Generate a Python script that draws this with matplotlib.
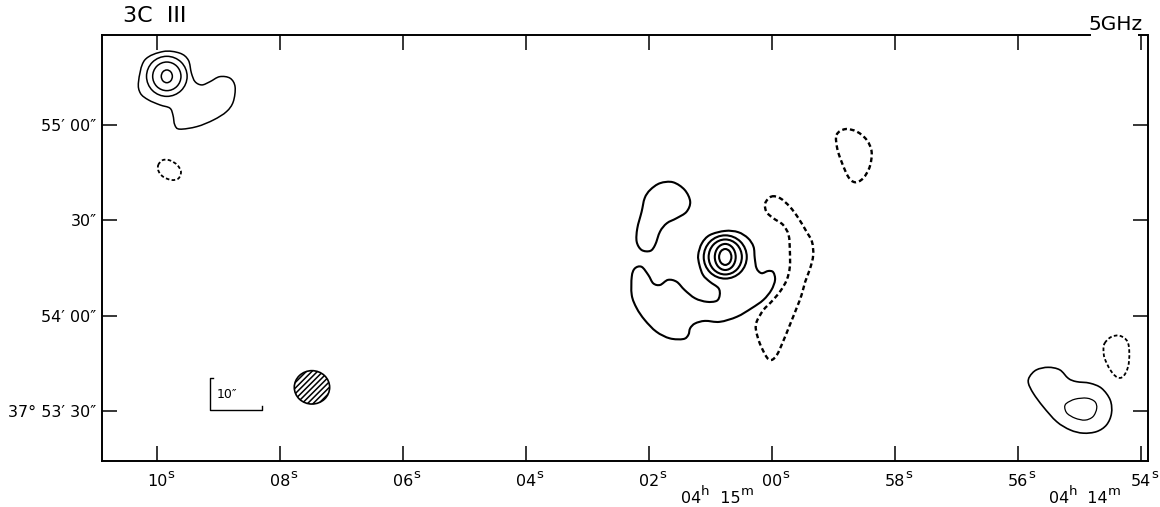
import numpy as np
import matplotlib
matplotlib.use('Agg')
import matplotlib.pyplot as plt
from matplotlib.path import Path
from matplotlib.patches import PathPatch, Ellipse

# RA in seconds after 04h 14m 00s, Dec in arcsec after +37d 53' 00"
ra_ticks = [70, 68, 66, 64, 62, 60, 58, 56, 54]
ra_labels = ['10', '08', '06', '04', '02', '00', '58', '56', '54']
dec_ticks = [30, 60, 90, 120]
dec_labels = ['37° 53′ 30″', '54′ 00″', '30″', '55′ 00″']
minute_labels = [['04', 'h', '  15', 'm'], ['04', 'h', '  14', 'm']]
minute_ra = [61.48, 55.50]

# eastern lobe
east_core = (69.84, 135.3)
east_ring_ra = [0.09, 0.23, 0.33]
east_ring_dec = [2.0, 4.5, 6.3]
east_outer_ra = [70.30, 70.20, 69.90, 69.63, 69.49, 69.44, 69.38, 69.27, 69.14, 68.98, 68.81, 68.73,
                 68.76, 68.87, 69.08, 69.35, 69.63, 69.71, 69.74, 69.79, 69.95, 70.14, 70.27]
east_outer_dec = [133.6, 140.4, 143.1, 142.6, 140.4, 136.3, 133.6, 132.6, 133.6, 135.2, 134.7, 132.0,
                  127.3, 124.2, 121.6, 119.5, 118.7, 120.0, 123.1, 125.3, 126.3, 127.9, 130.0]
east_neg_ra = [69.98, 69.90, 69.78, 69.67, 69.61, 69.65, 69.76, 69.89, 69.97]
east_neg_dec = [107.4, 109.0, 108.8, 107.4, 105.3, 103.2, 102.7, 103.6, 105.3]

# central source
core_pos = (60.76, 78.5)
core_ring_ra = [0.10, 0.17, 0.27, 0.35]
core_ring_dec = [2.5, 4.1, 5.5, 6.8]
core_outer_ra = [60.76, 60.55, 60.39, 60.30, 60.28, 60.25, 60.17, 60.06, 59.98, 59.95,
                 60.01, 60.14, 60.33, 60.57, 60.85, 61.09, 61.25, 61.33, 61.36, 61.44,
                 61.66, 61.88, 62.07, 62.20, 62.28, 62.28, 62.23, 62.12, 62.01, 61.93,
                 61.82, 61.69, 61.55, 61.42, 61.25, 61.06, 60.90, 60.85, 60.87, 61.01,
                 61.12, 61.18, 61.20, 61.14, 61.01]
core_outer_dec = [86.7, 86.3, 84.4, 81.7, 78.1, 74.9, 73.4, 74.1, 73.7, 71.3,
                  68.1, 65.0, 62.4, 59.7, 58.1, 58.4, 57.6, 56.1, 54.0, 52.7,
                  52.9, 55.0, 58.7, 62.4, 66.5, 72.3, 74.9, 75.4, 72.8, 70.2,
                  69.7, 71.3, 70.7, 68.1, 65.5, 64.4, 64.7, 66.5, 68.7, 70.7,
                  72.8, 76.0, 79.1, 82.8, 85.4]
blob_ra = [61.98, 61.82, 61.61, 61.42, 61.33, 61.39, 61.55, 61.71, 61.82, 61.90, 61.98, 62.12,
           62.20, 62.19, 62.12, 62.07]
blob_dec = [99.6, 101.7, 102.0, 99.6, 95.9, 92.7, 90.7, 89.1, 86.5, 82.3, 80.4, 80.7,
            83.3, 87.5, 92.7, 97.0]
arc_neg_ra = [60.01, 59.87, 59.71, 59.57, 59.44, 59.35, 59.33, 59.38, 59.46, 59.52,
              59.60, 59.71, 59.82, 59.92, 60.01, 60.09, 60.20, 60.26, 60.25, 60.14,
              60.01, 59.87, 59.76, 59.71, 59.71, 59.73, 59.82, 59.98, 60.09, 60.11]
arc_neg_dec = [97.5, 97.0, 94.3, 90.7, 86.5, 83.3, 79.1, 74.9, 70.7, 66.5,
               62.4, 57.1, 51.9, 47.7, 46.1, 47.1, 51.4, 55.5, 58.1, 61.8,
               64.4, 67.6, 71.3, 75.4, 80.7, 85.4, 88.6, 90.7, 92.7, 95.4]
north_neg_ra = [58.95, 58.81, 58.62, 58.46, 58.38, 58.41, 58.52, 58.65, 58.76, 58.87, 58.94]
north_neg_dec = [116.9, 118.7, 117.9, 115.3, 111.6, 106.9, 103.2, 102.0, 103.7, 108.5, 112.7]

# western lobe
west_outer_ra = [55.81, 55.70, 55.51, 55.32, 55.18, 55.05, 54.83, 54.64, 54.50, 54.48,
                 54.56, 54.72, 54.94, 55.15, 55.37, 55.59, 55.75, 55.83]
west_outer_dec = [40.9, 43.0, 43.8, 43.0, 40.3, 39.3, 38.8, 37.2, 33.5, 29.3,
                  25.7, 23.6, 23.1, 24.1, 26.7, 31.4, 35.6, 38.8]
west_inner_ra = [55.21, 55.07, 54.88, 54.75, 54.72, 54.78, 54.91, 55.07, 55.20, 55.24]
west_inner_dec = [32.5, 33.8, 34.1, 33.0, 30.9, 28.3, 27.2, 27.8, 29.3, 31.2]
west_neg_ra = [54.59, 54.48, 54.34, 54.22, 54.19, 54.21, 54.29, 54.39, 54.50, 54.59, 54.61]
west_neg_dec = [51.4, 53.4, 53.7, 51.9, 48.2, 44.0, 40.9, 40.7, 43.0, 46.6, 49.2]

# beam and 10" scale bar
beam_pos = (67.48, 37.5)
beam_size = (0.575, 10.5)
bar_corner = (69.14, 30.4)
bar_ra_len = 0.85
bar_dec_len = 10.0


def closed_curve(xs, ys):
    """closed cubic bezier path going through every traced point (catmull-rom handles)"""
    pts = np.column_stack([xs, ys])
    n = len(pts)
    verts = [pts[0]]
    codes = [Path.MOVETO]
    for i in range(n):
        p0, p1, p2, p3 = pts[i - 1], pts[i], pts[(i + 1) % n], pts[(i + 2) % n]
        verts += [p1 + (p2 - p0) / 6, p2 - (p3 - p1) / 6, p2]
        codes += [Path.CURVE4] * 3
    return Path(verts, codes)


def contour(ax, xs, ys, lw=1.4, neg=False):
    ls = (0, (2.0, 1.3)) if neg else '-'
    ax.add_patch(PathPatch(closed_curve(xs, ys), fill=False, ec='black', lw=lw, ls=ls))


def rings(ax, pos, rx, ry, lw):
    for a, b in zip(rx, ry):
        ax.add_patch(Ellipse(pos, 2 * a, 2 * b, fill=False, ec='black', lw=lw))


plt.rcParams['hatch.linewidth'] = 1.1
fig = plt.figure(figsize=(11.6, 5.07), dpi=100)
ax = fig.add_axes([102 / 1160, 1 - 461 / 507, 1046 / 1160, 426 / 507])
ax.set_xlim(70.894, 53.886)
ax.set_ylim(14.34, 148.30)

rings(ax, east_core, east_ring_ra, east_ring_dec, 1.1)
contour(ax, east_outer_ra, east_outer_dec, lw=1.1)
contour(ax, east_neg_ra, east_neg_dec, lw=1.3, neg=True)

rings(ax, core_pos, core_ring_ra, core_ring_dec, 1.5)
contour(ax, core_outer_ra, core_outer_dec, lw=1.5)
contour(ax, blob_ra, blob_dec, lw=1.5)
contour(ax, arc_neg_ra, arc_neg_dec, lw=1.7, neg=True)
contour(ax, north_neg_ra, north_neg_dec, lw=1.7, neg=True)

contour(ax, west_outer_ra, west_outer_dec, lw=1.2)
contour(ax, west_inner_ra, west_inner_dec, lw=0.9)
contour(ax, west_neg_ra, west_neg_dec, lw=1.3, neg=True)

# restoring beam
ax.add_patch(Ellipse(beam_pos, *beam_size, fill=False, ec='black', lw=1.2, hatch='//////'))

# scale bar
bx, by = bar_corner
ax.plot([bx - 0.05, bx, bx, bx - bar_ra_len, bx - bar_ra_len],
        [by + bar_dec_len, by + bar_dec_len, by, by, by + 1.3], color='black', lw=1.0)
ax.text(bx - 0.11, by + bar_dec_len / 2, '10″', fontsize=9, ha='left', va='center')

# axes frame
for s in ax.spines.values():
    s.set_linewidth(1.4)
ax.spines['top'].set_bounds(70.894, 54.83)
ax.plot([0.9904, 1.0], [1.0, 1.0], transform=ax.transAxes, color='black', lw=1.4,
        clip_on=False, solid_capstyle='butt')
ax.set_xticks(ra_ticks)
ax.set_xticklabels([])
ax.set_yticks(dec_ticks)
ax.set_yticklabels(dec_labels, fontsize=11.5)
ax.tick_params(direction='in', length=11, width=1.1, top=True, right=True, pad=4)

renderer = fig.canvas.get_renderer()
xtrans = ax.get_xaxis_transform()


def put(x, dx, dy, txt, size, ha='left'):
    t = ax.annotate(txt, xy=(x, 0), xycoords=xtrans, xytext=(dx, dy),
                    textcoords='offset points', ha=ha, va='top', fontsize=size)
    return t.get_window_extent(renderer).width * 72 / fig.dpi


# seconds labels: digits centred on the tick, raised "s" after them
for ra, lab in zip(ra_ticks, ra_labels):
    w = put(ra, 0, -9, lab, 11.5, ha='center')
    put(ra, w / 2 + 0.3, -5, 's', 9.5)

# hour/minute labels
for ra, parts in zip(minute_ra, minute_labels):
    dx = 0
    for k, p in enumerate(parts):
        sup = k % 2 == 1
        dx += put(ra, dx, -17.5 if sup else -21.5, p, 9.5 if sup else 11.5)

fig.text(123 / 1160, 1 - 16.5 / 507, '3C  III', fontsize=16, ha='left', va='center')
fig.text(1143 / 1160, 1 - 25 / 507, '5GHz', fontsize=14.5, ha='right', va='center')

fig.savefig('out.png', dpi=100, facecolor='white')
